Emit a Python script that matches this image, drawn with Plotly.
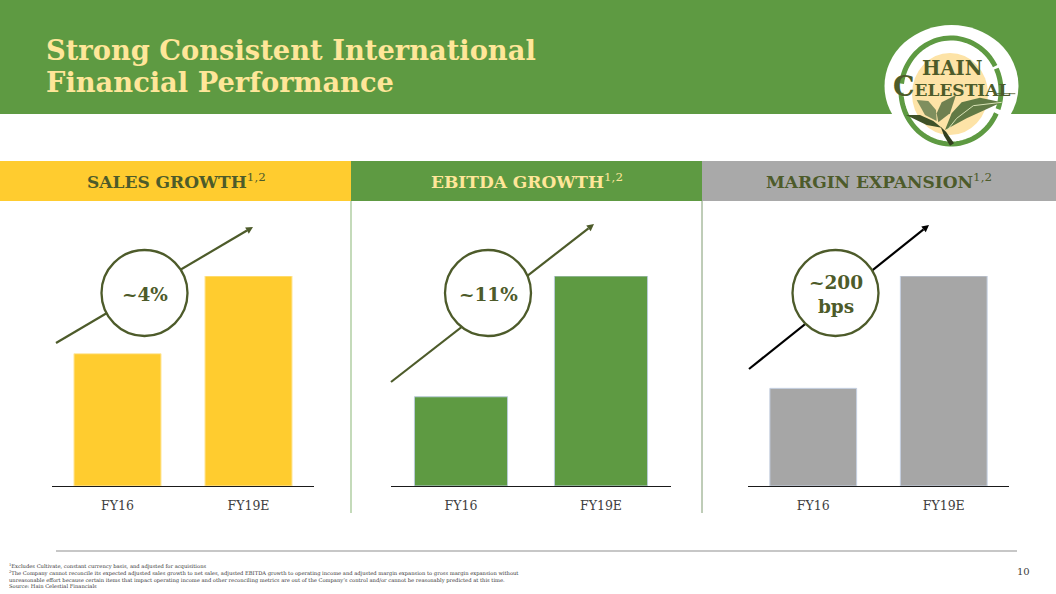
import numpy as np
import plotly.graph_objects as go

W, H = 1056, 594
SERIF = "DejaVu Serif"
OLIVE = "#4D5B2A"
GREEN = "#5E9A42"
YELLOW = "#FFCC2F"
GRAY = "#A6A6A6"
CREAM = "#FFE699"

categories = ["FY16", "FY19E"]
sales_index = [63, 100]
ebitda_index = [42.5, 100]
margin_index = [46.5, 100]

title_lines = ["Strong Consistent International", "Financial Performance"]
panel_titles = ["SALES GROWTH", "EBITDA GROWTH", "MARGIN EXPANSION"]
callouts = ["~4%", "~11%", "~200<br>bps"]
footnotes = ("<sup>1</sup>Excludes Cultivate, constant currency basis, and adjusted for acquisitions<br>"
             "<sup>2</sup>The Company cannot reconcile its expected adjusted sales growth to net sales, adjusted EBITDA growth to operating income and adjusted margin expansion to gross margin expansion without<br>"
             "unreasonable effort because certain items that impact operating income and other reconciling metrics are out of the Company\u2019s control and/or cannot be reasonably predicted at this time.<br>"
             "Source: Hain Celestial Financials")


def px(x):
    return x / W


def py(y):
    return 1 - y / H


def rect(x0, y0, x1, y1, fill, line=None, width=0):
    return dict(type="rect", xref="paper", yref="paper", x0=px(x0), x1=px(x1), y0=py(y1), y1=py(y0),
                fillcolor=fill, line=dict(color=line or fill, width=width), layer="above")


def seg(x0, y0, x1, y1, color, width):
    return dict(type="line", xref="paper", yref="paper", x0=px(x0), x1=px(x1), y0=py(y0), y1=py(y1),
                line=dict(color=color, width=width), layer="above")


def ell(cx, cy, rx, ry, fill, line="rgba(0,0,0,0)", width=0):
    return dict(type="circle", xref="paper", yref="paper", x0=px(cx - rx), x1=px(cx + rx), y0=py(cy + ry), y1=py(cy - ry),
                fillcolor=fill, line=dict(color=line, width=width), layer="above")


def path(points, fill=None, line="rgba(0,0,0,0)", width=0, close=True):
    d = "M " + " L ".join(f"{px(x):.5f},{py(y):.5f}" for x, y in points) + (" Z" if close else "")
    return dict(type="path", xref="paper", yref="paper", path=d, fillcolor=fill or "rgba(0,0,0,0)",
                line=dict(color=line, width=width), layer="above")


def arc(cx, cy, rx, ry, a0, a1):
    t = np.radians(np.linspace(a0, a1, 40))
    return list(zip(cx + rx * np.cos(t), cy - ry * np.sin(t)))


def z(x, y):
    return (870 + x / 3, 15 + y / 3)


def label(x, y, text, size, color, anchor="center", align="center"):
    return dict(x=px(x), y=py(y), xref="paper", yref="paper", xanchor=anchor, yanchor="middle", align=align,
                text=text, showarrow=False, borderpad=0, borderwidth=0,
                font=dict(family=SERIF, size=size, color=color))


fig = go.Figure()

panels = [
    (sales_index, YELLOW, "#FFE9A8", (52, 314), "x", "y"),
    (ebitda_index, GREEN, "#B9CBD8", (391, 671), "x2", "y2"),
    (margin_index, GRAY, "#C5D0E2", (748, 1009), "x3", "y3"),
]
base = dict(showgrid=False, zeroline=False)
layout_axes = {}
for i, (vals, col, edge, (a, b), xa, ya) in enumerate(panels):
    fig.add_trace(go.Bar(x=categories, y=vals, xaxis=xa, yaxis=ya, width=0.665,
                         marker=dict(color=col, line=dict(color=edge, width=1)), showlegend=False,
                         hoverinfo="skip"))
    suffix = "" if i == 0 else str(i + 1)
    layout_axes["xaxis" + suffix] = dict(
        base, domain=[px(a), px(b)], range=[-0.5, 1.5], anchor=ya, type="category",
        showline=True, linecolor="#1a1a1a", linewidth=1.2,
        ticks="outside", ticklen=8, tickcolor="rgba(0,0,0,0)",
        tickfont=dict(family=SERIF, size=12.5, color="#404040"))
    layout_axes["yaxis" + suffix] = dict(
        base, domain=[py(486), py(276)], range=[0, 100], anchor=xa, visible=False)

shapes = [
    rect(0, 0, W, 114, GREEN),
    rect(0, 161, 351, 201, YELLOW),
    rect(351, 161, 702, 201, GREEN),
    rect(702, 161, W, 201, "#A9A9A9"),
    seg(351, 201, 351, 513, "#A5C795", 1.3),
    seg(702, 201, 702, 513, "#7F9A70", 1),
    seg(56, 551, 1017, 551, "#B4B4B4", 1.5),
]

arrows = [
    ((56, 343), (253, 227), OLIVE),
    ((391, 382), (594, 224), OLIVE),
    ((749, 369), (929, 225), "#000000"),
]
circles = [(144.5, 293), (488, 293), (835.5, 293)]
annotations = []
for ((x0, y0), (x1, y1), c), (cx, cy), txt in zip(arrows, circles, callouts):
    d = np.array([x1 - x0, y1 - y0], float)
    d /= np.hypot(*d)
    n = np.array([-d[1], d[0]])
    tip = np.array([x1, y1], float)
    back = tip - d * 7
    shapes.append(seg(x0, y0, back[0], back[1], c, 2.2))
    shapes.append(ell(cx, cy, 43, 43, "#FFFFFF", OLIVE, 2.3))
    shapes.append(path([tuple(tip), tuple(back + n * 3.6), tuple(back - n * 3.6)], c))
    annotations.append(label(cx, cy + 1, f"<b>{txt}</b>", 18.5, OLIVE))

# logo
shapes.append(ell(951.5, 86, 67, 61, "#FFFFFF"))
shapes.append(ell(950, 94, 38, 41, "#FDE3A7"))
for a0, a1 in [(28, 172), (182, 335), (340, 385)]:
    shapes.append(path(arc(951, 91, 50, 53, a0, a1), line=GREEN, width=5, close=False))
shapes.append(path([z(108, 300), z(150, 300), z(190, 318), z(215, 338), z(170, 330)], "#3F5128"))
shapes.append(path([z(140, 255), z(175, 258), z(198, 285), z(200, 318), z(165, 300)], "#7F8F5E"))
shapes.append(path([z(258, 240), z(215, 262), z(200, 295), z(205, 322), z(240, 295)], "#6F8050"))
shapes.append(path([z(395, 262), z(330, 248), z(275, 262), z(245, 295), z(225, 345), z(290, 310)], "#617A45"))
shapes.append(path([z(395, 262), z(310, 272), z(260, 310), z(232, 345)], line="#D9E3B6", width=1, close=False))
shapes.append(path([z(212, 335), z(228, 350), z(252, 385), z(240, 392), z(222, 362)], "#33401F"))
shapes.append(seg(*z(380, 236), *z(436, 236), OLIVE, 0.8))

annotations += [
    label(46, 50, f"<b>{title_lines[0]}</b>", 27.3, CREAM, "left", "left"),
    label(46, 82, f"<b>{title_lines[1]}</b>", 27.3, CREAM, "left", "left"),
    label(176, 181, f"<b>{panel_titles[0]}</b><sup>1,2</sup>", 17, OLIVE),
    label(527, 181, f"<b>{panel_titles[1]}</b><sup>1,2</sup>", 17, CREAM),
    label(879, 181, f"<b>{panel_titles[2]}</b><sup>1,2</sup>", 17, OLIVE),
    label(952, 69, "<b>HAIN</b>", 19.5, OLIVE),
    label(951, 86, "<b><span style='font-size:27px'>C</span>ELESTIAL</b>", 17, OLIVE),
    label(9, 576, footnotes, 5.2, "#333333", "left", "left"),
    label(1023, 571, "10", 10, "#404040"),
]

fig.update_layout(width=W, height=H, margin=dict(l=0, r=0, t=0, b=0), paper_bgcolor="#FFFFFF",
                  plot_bgcolor="#FFFFFF", shapes=shapes, annotations=annotations, **layout_axes)
fig.write_html("out.html", config={"displayModeBar": False},
               post_script="document.body.style.margin='0';document.body.style.overflow='hidden';")
